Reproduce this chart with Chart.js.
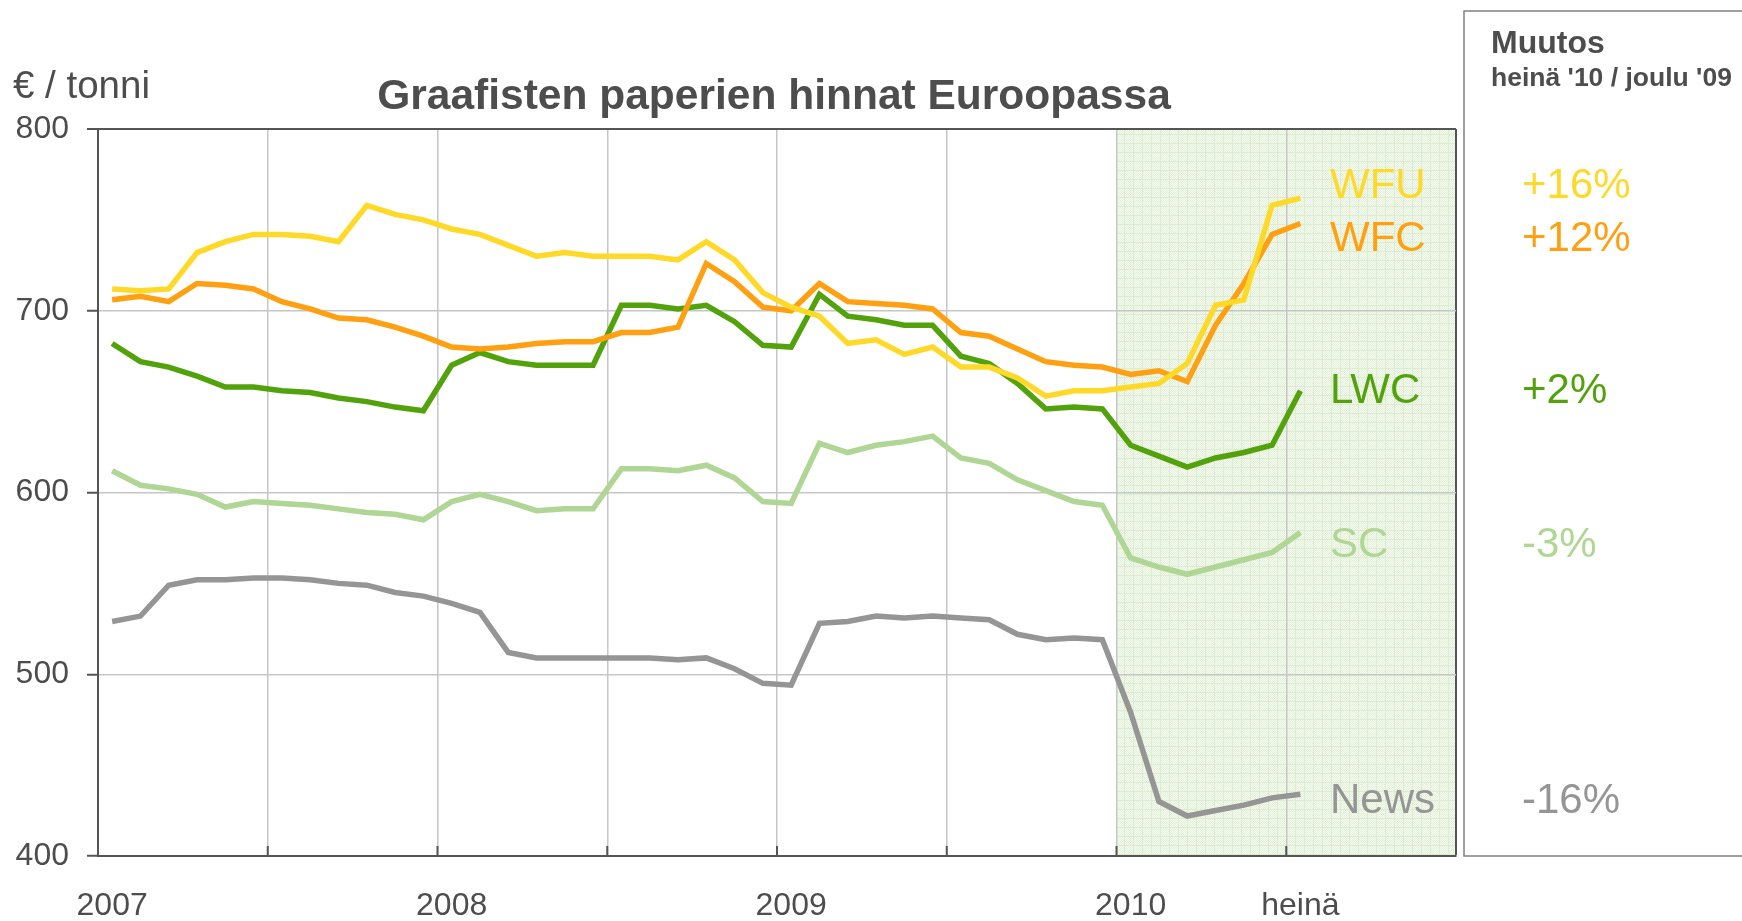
<!DOCTYPE html>
<html>
<head>
<meta charset="utf-8">
<script src="https://cdn.jsdelivr.net/npm/chart.js@4"></script>
<style>
  html, body { margin: 0; padding: 0; background: #fff; }
  canvas { display: block; }
</style>
</head>
<body>
<canvas id="chart" width="1742" height="921"></canvas>
<script>
// monthly prices, Jan 2007 .. Jul 2010 (EUR / tonne)
const wfu  = [712,711,712,732,738,742,742,741,738,758,753,750,745,742,736,730,732,730,730,730,728,738,728,710,702,697,682,684,676,680,669,669,663,653,656,656,658,660,671,703,706,758,762];
const wfc  = [706,708,705,715,714,712,705,701,696,695,691,686,680,679,680,682,683,683,688,688,691,726,716,702,700,715,705,704,703,701,688,686,679,672,670,669,665,667,661,692,715,742,748];
const lwc  = [682,672,669,664,658,658,656,655,652,650,647,645,670,677,672,670,670,670,703,703,701,703,694,681,680,709,697,695,692,692,675,671,660,646,647,646,626,620,614,619,622,626,656];
const sc   = [612,604,602,599,592,595,594,593,591,589,588,585,595,599,595,590,591,591,613,613,612,615,608,595,594,627,622,626,628,631,619,616,607,601,595,593,564,559,555,559,563,567,578];
const news = [529,532,549,552,552,553,553,552,550,549,545,543,539,534,512,509,509,509,509,509,508,509,503,495,494,528,529,532,531,532,531,530,522,519,520,519,479,430,422,425,428,432,434];

const seriesNames = ["WFU", "WFC", "LWC", "SC", "News"];
const changes     = ["+16%", "+12%", "+2%", "-3%", "-16%"];
const colors      = ["#ffd928", "#ffa012", "#52a20c", "#afd694", "#959595"];

// x axis: months from start of 2007, gridlines every half year
const gridMonths  = [0, 6, 12, 18, 24, 30, 36, 42, 48];
const labelMonths = [0.5, 12.5, 24.5, 36.5, 42.5];
const xLabels     = ["2007", "2008", "2009", "2010", "heinä"];
const shadeFrom = 36, shadeTo = 48;

const FONT = "'Liberation Sans', Arial, sans-serif";
const TEXT = "#4d4d4d";
Chart.defaults.font.family = FONT;

const isLabelTick = v => labelMonths.includes(v);

// light green dotted fill for 2010
function makePattern(ctx){
  const pc = document.createElement("canvas");
  pc.width = 9; pc.height = 9;
  const p = pc.getContext("2d");
  p.fillStyle = "#f6faf1"; p.fillRect(0,0,9,9);
  p.fillStyle = "#e4f1da";
  for(let y=0;y<9;y++) for(let x=0;x<9;x++) if((x+y)%2===0) p.fillRect(x,y,1,1);
  p.fillStyle = "#ddeed0";
  p.fillRect(0,8,9,1); p.fillRect(8,0,1,9);
  return ctx.createPattern(pc, "repeat");
}

const shadePlugin = {
  id: "shade",
  beforeDraw(chart){
    const {ctx, chartArea, scales} = chart;
    const x0 = scales.x.getPixelForValue(shadeFrom), x1 = scales.x.getPixelForValue(shadeTo);
    ctx.save();
    ctx.fillStyle = makePattern(ctx);
    ctx.fillRect(x0, chartArea.top, x1 - x0, chartArea.bottom - chartArea.top);
    ctx.restore();
  }
};

const textPlugin = {
  id: "texts",
  afterDraw(chart){
    const {ctx, chartArea, scales} = chart;
    ctx.save();
    // inner tick marks on the x axis
    ctx.strokeStyle = "#555"; ctx.lineWidth = 2;
    gridMonths.slice(1, -1).forEach(m=>{
      const x = scales.x.getPixelForValue(m);
      ctx.beginPath(); ctx.moveTo(x, chartArea.bottom); ctx.lineTo(x, chartArea.bottom - 10); ctx.stroke();
    });

    // title + unit
    ctx.fillStyle = TEXT;
    ctx.textBaseline = "alphabetic";
    ctx.textAlign = "center";
    ctx.font = "bold 42.5px " + FONT;
    ctx.fillText("Graafisten paperien hinnat Euroopassa", 774, 109);
    ctx.textAlign = "left";
    ctx.font = "38.5px " + FONT;
    ctx.fillText("€ / tonni", 13, 98);

    // series names and changes
    const labelY = [198, 251, 403, 557, 813];
    ctx.font = "42px " + FONT;
    seriesNames.forEach((n,i)=>{
      ctx.fillStyle = colors[i];
      ctx.fillText(n, 1330, labelY[i]);
      ctx.fillText(changes[i], 1522, labelY[i]);
    });

    // side panel
    ctx.strokeStyle = "#808080"; ctx.lineWidth = 1.5;
    ctx.strokeRect(1464, 11, 320, chartArea.bottom - 11);
    ctx.fillStyle = TEXT;
    ctx.font = "bold 32px " + FONT;
    ctx.fillText("Muutos", 1491, 53);
    ctx.font = "bold 26.5px " + FONT;
    ctx.fillText("heinä '10 / joulu '09", 1491, 86);
    ctx.restore();
  }
};

const toPoints = arr => arr.map((v,i)=>({x: i + 0.5, y: v}));
const datasets = [wfu, wfc, lwc, sc, news].map((arr,i)=>({
  label: seriesNames[i],
  data: toPoints(arr),
  borderColor: colors[i],
  borderWidth: 5.5,
  pointRadius: 0,
  tension: 0,
  fill: false
}));

new Chart(document.getElementById("chart"), {
  type: "line",
  data: { datasets },
  options: {
    responsive: false,
    animation: false,
    devicePixelRatio: 1,
    layout: { padding: { top: 129, right: 286, left: 0, bottom: 0 } },
    plugins: { legend: { display: false }, tooltip: { enabled: false } },
    scales: {
      x: {
        type: "linear", min: 0, max: 48,
        afterBuildTicks: s => { s.ticks = gridMonths.concat(labelMonths).sort((a,b)=>a-b).map(v=>({value: v})); },
        afterFit: s => { s.height = 65; },
        ticks: {
          autoSkip: false, maxRotation: 0, padding: 31,
          font: { size: 32 }, color: TEXT,
          callback: v => isLabelTick(v) ? xLabels[labelMonths.indexOf(v)] : ""
        },
        grid: {
          drawTicks: false,
          color: c => {
            const v = c.tick.value;
            if (isLabelTick(v) || v === 0) return "rgba(0,0,0,0)";
            return v === 48 ? "#555" : "#c6c6c6";
          },
          lineWidth: c => c.tick.value === 48 ? 2 : 1.5
        },
        border: { color: "#555", width: 2 }
      },
      y: {
        min: 400, max: 800,
        afterFit: s => { s.width = 98; },
        ticks: { stepSize: 100, padding: 18, font: { size: 32 }, color: TEXT },
        grid: {
          tickLength: 11, tickColor: "#555", tickWidth: 2,
          color: c => c.tick.value === 800 ? "#555" : "#c6c6c6",
          lineWidth: c => c.tick.value === 800 ? 2 : 1.5
        },
        border: { color: "#555", width: 2 }
      }
    }
  },
  plugins: [shadePlugin, textPlugin]
});
</script>
</body>
</html>
